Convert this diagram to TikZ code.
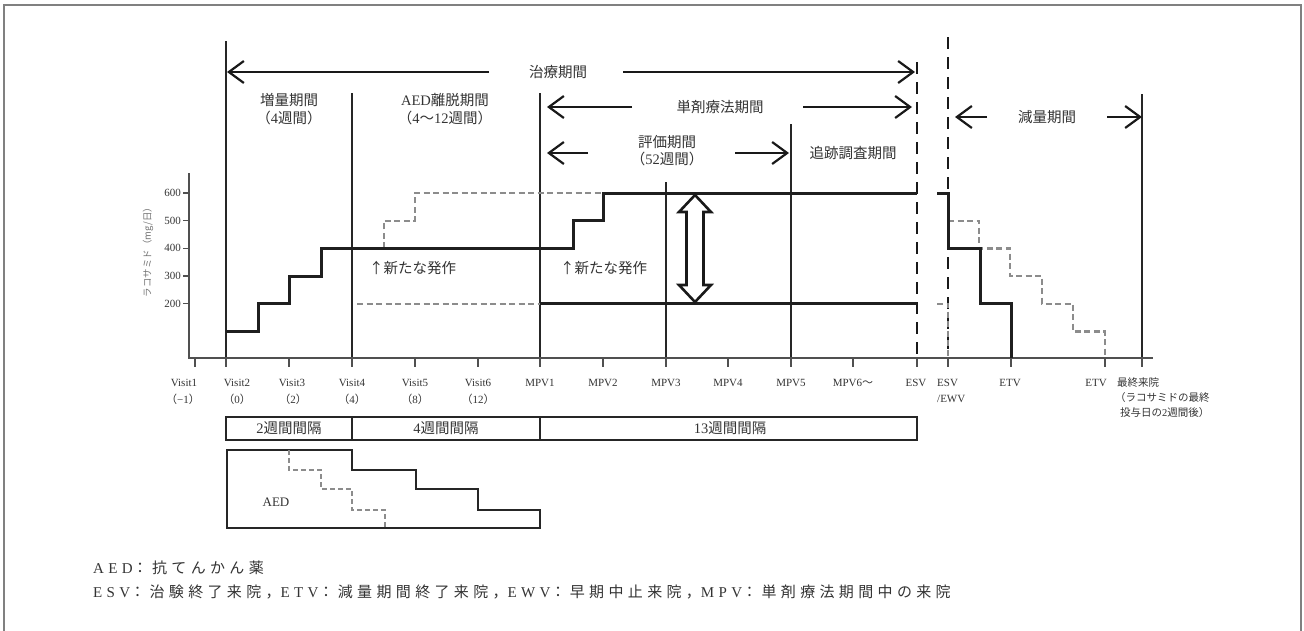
\documentclass[tikz,border=0pt]{standalone}
\usepackage{fontspec}
\setmainfont{Liberation Serif}
\newfontfamily\jp{Noto Sans CJK JP}
\newfontfamily\jpls[LetterSpace=29]{Noto Sans CJK JP}
\newfontfamily\serls[LetterSpace=29]{Liberation Serif}
\newcommand{\JP}[1]{{\jp #1}}
\newcommand{\JPL}[1]{{\jpls #1}}
\usetikzlibrary{arrows.meta}
\definecolor{txt}{HTML}{333333}
\definecolor{dgray}{HTML}{8C8C8C}
\definecolor{framec}{HTML}{808080}
\definecolor{axisc}{HTML}{505050}
\tikzset{
  vline/.style={line width=1.2pt, draw=black!85},
  esvline/.style={line width=1.4pt, draw=black!90, dash pattern=on 12pt off 8pt},
  stepline/.style={line width=3pt, draw=black!88, line join=miter},
  gdash/.style={line width=2.4pt, draw=dgray, dash pattern=on 6pt off 3.5pt},
  period/.style={line width=2.2pt, draw=black!90, -{Straight Barb[length=15pt,width=22pt]}},
  plabel/.style={font=\fontsize{14.5}{16}\selectfont, text=txt, inner sep=0pt},
  tl/.style={font=\fontsize{11}{13}\selectfont, text=txt, inner sep=0pt},
  tlj/.style={font=\fontsize{10.5}{12}\selectfont, text=txt, inner sep=0pt},
  ytl/.style={font=\fontsize{11}{13}\selectfont, text=txt, inner sep=0pt, anchor=east},
  boxline/.style={line width=2.6pt, draw=black!85},
  aedline/.style={line width=1.1pt, draw=black!85},
  aeddash/.style={line width=1.6pt, draw=dgray, dash pattern=on 5pt off 3pt},
  legend/.style={font=\fontsize{15}{17}\selectfont, text=txt, inner sep=0pt, anchor=west}
}
\begin{document}
\begin{tikzpicture}[x=1pt,y=-1pt]
\useasboundingbox (0,0) rectangle (1304,630);
% frame
\draw[framec, line width=1.6pt] (4,631) -- (4,5) -- (1301,5) -- (1301,631);

% ---- x positions
\foreach \n/\x in {V1/195,V2/226,V3/289,V4/352,V5/415,V6/478,M1/540,M2/603,M3/666,M4/728,M5/791,M6/853,E1/917,E2/948,T1/1011,T2/1105,L/1142}{
  \coordinate (\n) at (\x,358);
  \coordinate (\n b) at (\x,367);
}

% ---- period vertical lines
\coordinate (V2top) at (226,41);
\coordinate (V4top) at (352,93);
\coordinate (M1top) at (540,93);
\coordinate (M3top) at (666,182);
\coordinate (M5top) at (791,124);
\coordinate (E1top) at (917,62);
\coordinate (E2top) at (948,37);
\coordinate (Ltop) at (1142,94);
\draw[vline] (V2top) -- (V2);
\draw[vline] (V4top) -- (V4);
\draw[vline] (M1top) -- (M1);
\draw[vline] (M3top) -- (M3);
\draw[vline] (M5top) -- (M5);
\draw[vline] (Ltop) -- (L);
\draw[esvline] (E1top) -- (E1);
\draw[esvline] (E2top) -- (E2);

% ---- axes
\coordinate (O) at (189,358);
\coordinate (Yt) at (189,173);
\coordinate (Xe) at (1153,358);
\draw[axisc, line width=1.5pt] (Yt) -- (O) -- (Xe);
\foreach \n in {V1,V2,V3,V4,V5,V6,M1,M2,M3,M4,M5,M6,E1,E2,T1,T2,L}{
  \draw[axisc, line width=1.3pt] (\n) -- (\n b);
}
\foreach \v/\y in {600/193,500/220.7,400/248.3,300/276,200/303.7}{
  \draw[axisc, line width=1.2pt] (183,\y) -- (189,\y);
  \node[ytl] (y\v) at (181,\y) {\v};
}
\node[font=\jp\fontsize{9.5}{11}\selectfont, text=black!55, rotate=90, inner sep=0pt] (ylab) at (148,250) {ラコサミド（mg/日）};

% ---- period arrows
\node[plabel] (pt) at (558,72) {\JP{治療期間}};
\coordinate (ptL) at (489,72); \coordinate (ptLt) at (227,72);
\coordinate (ptR) at (623,72); \coordinate (ptRt) at (915,72);
\draw[period] (ptL) -- (ptLt);
\draw[period] (ptR) -- (ptRt);

\node[plabel] (pm) at (720,107) {\JP{単剤療法期間}};
\coordinate (pmL) at (632,107); \coordinate (pmLt) at (547,107);
\coordinate (pmR) at (803,107); \coordinate (pmRt) at (912,107);
\draw[period] (pmL) -- (pmLt);
\draw[period] (pmR) -- (pmRt);

\node[plabel] (pe1) at (667,142) {\JP{評価期間}};
\node[plabel] (pe2) at (667,159) {\JP{（}52\JP{週間）}};
\coordinate (peL) at (588,153); \coordinate (peLt) at (547,153);
\coordinate (peR) at (735,153); \coordinate (peRt) at (789,153);
\draw[period] (peL) -- (peLt);
\draw[period] (peR) -- (peRt);

\node[plabel] (pf) at (853,153) {\JP{追跡調査期間}};

\node[plabel] (pd) at (1047,117) {\JP{減量期間}};
\coordinate (pdL) at (987,117); \coordinate (pdLt) at (955,117);
\coordinate (pdR) at (1107,117); \coordinate (pdRt) at (1142,117);
\draw[period] (pdL) -- (pdLt);
\draw[period] (pdR) -- (pdRt);

\node[plabel] (pu1) at (289,100) {\JP{増量期間}};
\node[plabel] (pu2) at (289,118) {\JP{（}4\JP{週間）}};
\node[plabel] (pa1) at (445,100) {AED\JP{離脱期間}};
\node[plabel] (pa2) at (445,118) {\JP{（}4\JP{〜}12\JP{週間）}};

% ---- dose curves: gray dashed first
\draw[gdash] (357,303.7) -- (540,303.7);
\draw[gdash] (384,248.3) -- (384,220.7) -- (415,220.7) -- (415,193) -- (603,193);
\draw[gdash] (937,303.7) -- (948,303.7) -- (948,358);
\draw[gdash] (948,220.7) -- (979,220.7) -- (979,248.3) -- (1010,248.3) -- (1010,276) -- (1042,276) -- (1042,303.7) -- (1073,303.7) -- (1073,331.3) -- (1105,331.3) -- (1105,358);
% solid
\draw[stepline] (226,331.3) -- (258,331.3) -- (258,303.7) -- (289,303.7) -- (289,276) -- (321,276) -- (321,248.3) -- (573,248.3) -- (573,220.7) -- (603,220.7) -- (603,193) -- (917,193);
\draw[stepline] (540,303.7) -- (917,303.7);
\draw[stepline] (937,193) -- (948,193) -- (948,248.3) -- (980,248.3) -- (980,303.7) -- (1011,303.7) -- (1011,358);

% ---- double hollow arrow
\draw[line width=2.6pt, draw=black!90, fill=white, line join=miter]
  (695,195) -- (711,212) -- (703.5,212) -- (703.5,285) -- (711,285) -- (695,302)
  -- (679,285) -- (686.5,285) -- (686.5,212) -- (679,212) -- cycle;

% ---- new seizure notes
\node[plabel, anchor=west] (ns1) at (369,268) {\JP{↑新たな発作}};
\node[plabel, anchor=west] (ns2) at (560,268) {\JP{↑新たな発作}};

% ---- x tick labels
\node[tl] (lV1) at (184,383) {Visit1};
\node[tl] (lV1b) at (183,399) {\JP{（}−1\JP{）}};
\node[tl] (lV2) at (237,383) {Visit2};
\node[tl] (lV2b) at (237,399) {\JP{（}0\JP{）}};
\node[tl] (lV3) at (292,383) {Visit3};
\node[tl] (lV3b) at (293,399) {\JP{（}2\JP{）}};
\node[tl] (lV4) at (352,383) {Visit4};
\node[tl] (lV4b) at (352,399) {\JP{（}4\JP{）}};
\node[tl] (lV5) at (415,383) {Visit5};
\node[tl] (lV5b) at (415,399) {\JP{（}8\JP{）}};
\node[tl] (lV6) at (478,383) {Visit6};
\node[tl] (lV6b) at (478,399) {\JP{（}12\JP{）}};
\node[tl] (lM1) at (540,383) {MPV1};
\node[tl] (lM2) at (603,383) {MPV2};
\node[tl] (lM3) at (666,383) {MPV3};
\node[tl] (lM4) at (728,383) {MPV4};
\node[tl] (lM5) at (791,383) {MPV5};
\node[tl] (lM6) at (853,383) {MPV6\JP{〜}};
\node[tl] (lE1) at (916,383) {ESV};
\node[tl, anchor=west] (lE2) at (937,383) {ESV};
\node[tl, anchor=west] (lE2b) at (937,399) {/EWV};
\node[tl] (lT1) at (1010,383) {ETV};
\node[tl] (lT2) at (1096,383) {ETV};
\node[tlj, anchor=west] (lL1) at (1117,383) {\JP{最終来院}};
\node[tlj, anchor=west] (lL2) at (1115,398) {\JP{（ラコサミドの最終}};
\node[tlj, anchor=west] (lL3) at (1120,413) {\JP{投与日の}2\JP{週間後）}};

% ---- interval box
\draw[boxline] (226,417) rectangle (917,440);
\draw[boxline] (352,417) -- (352,440);
\draw[boxline] (540,417) -- (540,440);
\node[plabel] (i1) at (289,428.5) {2\JP{週間間隔}};
\node[plabel] (i2) at (446,428.5) {4\JP{週間間隔}};
\node[plabel] (i3) at (730,428.5) {13\JP{週間間隔}};

% ---- AED box
\draw[aedline] (227,450) -- (352,450) -- (352,470) -- (416,470) -- (416,489) -- (478,489) -- (478,510) -- (540,510) -- (540,528) -- (227,528) -- cycle;
\draw[aeddash] (289,450) -- (289,470) -- (321,470) -- (321,489) -- (352,489) -- (352,510) -- (385,510) -- (385,528);
\node[font=\fontsize{13}{15}\selectfont, text=txt, inner sep=0pt] (aed) at (276,502) {AED};

% ---- legend
\node[legend] (lg1) at (93,568) {{\serls AED}\JPL{：抗てんかん薬}};
\node[legend] (lg2) at (93,592) {{\serls ESV}\JPL{：治験終了来院，}{\serls ETV}\JPL{：減量期間終了来院，}{\serls EWV}\JPL{：早期中止来院，}{\serls MPV}\JPL{：単剤療法期間中の来院}};
\end{tikzpicture}
\end{document}
